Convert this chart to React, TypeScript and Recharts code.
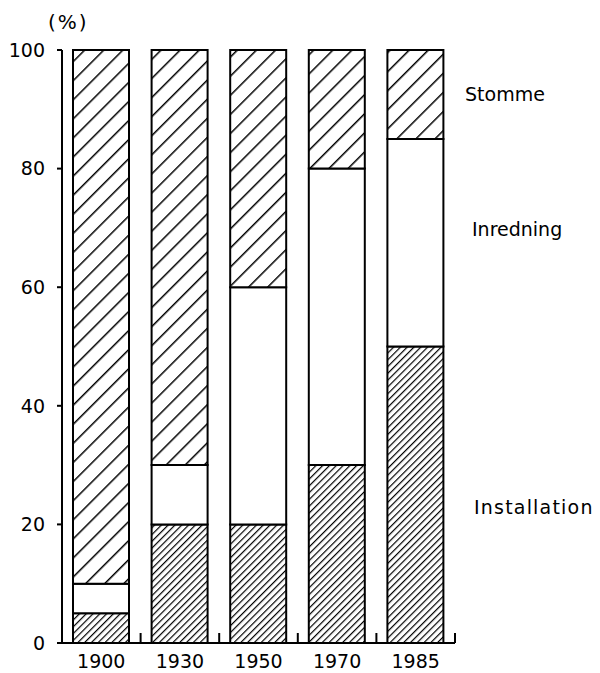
import { Bar, BarChart, XAxis, YAxis } from "recharts";

// Share of building cost per part, 1900–1985. Three stacked parts per year:
// Installation (dense hatch), Inredning (blank), Stomme (sparse hatch).
const years = ["1900", "1930", "1950", "1970", "1985"];
const installation = [5, 20, 20, 30, 50];
const inredning = [5, 10, 40, 50, 35];
const stomme = [90, 70, 40, 20, 15];
const yTicks = [0, 20, 40, 60, 80, 100];

const data = years.map((year, i) => ({
  year,
  installation: installation[i],
  inredning: inredning[i],
  stomme: stomme[i],
}));

const FONT = '"DejaVu Sans", sans-serif';

// x tick: year label under the bar plus a short upward mark at the band's
// right edge (the original marks the gaps between bars, not the centres).
function YearTick(props: any) {
  const { x, y, payload, width } = props;
  const half =
    payload && payload.offset > 0 ? payload.offset : width / years.length / 2;
  return (
    <g>
      <line x1={x + half} y1={y} x2={x + half} y2={y - 10} stroke="#000" strokeWidth={2} />
      <text
        x={x}
        y={y + 25}
        textAnchor="middle"
        fontFamily={FONT}
        fontSize={19}
        fill="#000"
      >
        {payload.value}
      </text>
    </g>
  );
}

const sideLabel = (top: number, left: number): React.CSSProperties => ({
  position: "absolute",
  top,
  left,
  fontFamily: FONT,
  fontSize: 19,
  color: "#000",
  lineHeight: "22px",
  whiteSpace: "nowrap",
});

export default function App() {
  return (
    <div style={{ position: "absolute", left: 0, top: 0, width: 600, height: 673, background: "#fff" }}>
      <BarChart
        width={600}
        height={673}
        data={data}
        margin={{ top: 50, right: 145, bottom: 0, left: 0 }}
        barSize={56}
      >
        <defs>
          <pattern id="sparse" patternUnits="userSpaceOnUse" width={13.5} height={13.5} patternTransform="rotate(45)">
            <rect width={13.5} height={13.5} fill="#fff" />
            <line x1={0} y1={0} x2={0} y2={13.5} stroke="#000" strokeWidth={3} />
          </pattern>
          <pattern id="dense" patternUnits="userSpaceOnUse" width={4.8} height={4.8} patternTransform="rotate(45)">
            <rect width={4.8} height={4.8} fill="#fff" />
            <line x1={0} y1={0} x2={0} y2={4.8} stroke="#000" strokeWidth={2.4} />
          </pattern>
        </defs>
        <XAxis
          dataKey="year"
          height={30}
          tickSize={0}
          tickMargin={0}
          tickLine={false}
          axisLine={{ stroke: "#000", strokeWidth: 2 }}
          tick={<YearTick />}
          interval={0}
        />
        <YAxis
          width={62}
          domain={[0, 100]}
          ticks={yTicks}
          interval={0}
          tickSize={5}
          tickMargin={12}
          axisLine={{ stroke: "#000", strokeWidth: 2 }}
          tickLine={{ stroke: "#000", strokeWidth: 2 }}
          tick={{ fill: "#000", fontSize: 19, fontFamily: FONT }}
        />
        <Bar dataKey="installation" stackId="a" fill="url(#dense)" stroke="#000" strokeWidth={2} isAnimationActive={false} />
        <Bar dataKey="inredning" stackId="a" fill="#fff" stroke="#000" strokeWidth={2} isAnimationActive={false} />
        <Bar dataKey="stomme" stackId="a" fill="url(#sparse)" stroke="#000" strokeWidth={2} isAnimationActive={false} />
      </BarChart>
      <div style={{ ...sideLabel(11, 48), fontSize: 20, letterSpacing: 2 }}>(%)</div>
      <div style={sideLabel(83, 465)}>Stomme</div>
      <div style={sideLabel(218, 472)}>Inredning</div>
      <div style={{ ...sideLabel(496, 474), letterSpacing: 1.2 }}>Installation</div>
    </div>
  );
}
